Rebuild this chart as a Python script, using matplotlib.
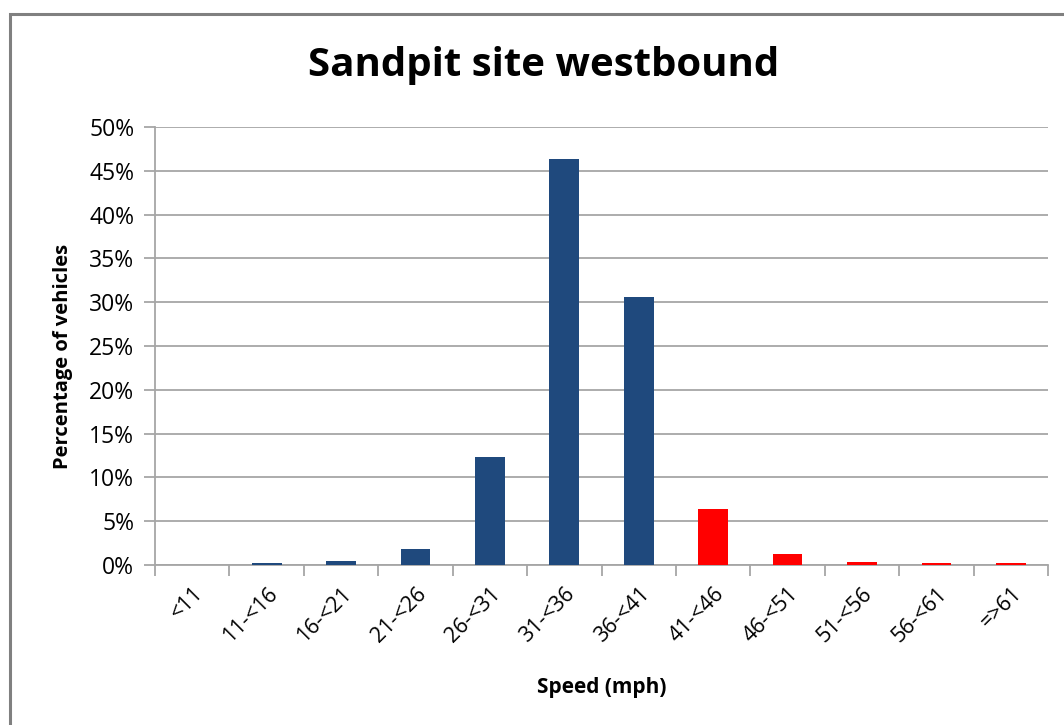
import matplotlib
matplotlib.use('Agg')
import matplotlib.pyplot as plt
from matplotlib.patches import Rectangle
from matplotlib.ticker import FuncFormatter, MultipleLocator
import numpy as np

categories = ['<11', '11-<16', '16-<21', '21-<26', '26-<31', '31-<36',
              '36-<41', '41-<46', '46-<51', '51-<56', '56-<61', '=>61']
percentages = [0.0, 0.2, 0.5, 1.8, 12.3, 46.4, 30.6, 6.4, 1.25, 0.35, 0.2, 0.2]
over_limit = [False] * 7 + [True] * 5

plt.rcParams['font.family'] = ['Open Sans', 'DejaVu Sans']

fig = plt.figure(figsize=(10.64, 7.25), dpi=100)
ax = fig.add_axes([0.1457, 0.2207, 0.8393, 0.6041])

# outer chart frame (cut off at right and bottom in the source)
fig.patches.append(Rectangle((0.0095, -0.05), 1.2, 1.05 - 0.0193, transform=fig.transFigure,
                             fill=False, edgecolor='#808080', linewidth=2.2))

x = np.arange(len(categories))
colors = ['#FF0000' if flag else '#1F497D' for flag in over_limit]
ax.bar(x, percentages, width=0.4, color=colors, zorder=3)

ax.set_xlim(-0.5, len(categories) - 0.5)
ax.set_ylim(0, 50)
ax.yaxis.set_major_locator(MultipleLocator(5))
ax.yaxis.set_major_formatter(FuncFormatter(lambda v, _: f'{v:.0f}%'))
ax.grid(axis='y', color='#A6A6A6', linewidth=1.3, zorder=0)

ax.set_xticks(x)
ax.set_xticklabels(categories, rotation=45, ha='right', rotation_mode='anchor', fontsize=15.5)
ax.set_xticks(np.arange(-0.5, len(categories)), minor=True)
ax.tick_params(axis='x', which='major', length=0, pad=13)
ax.tick_params(axis='x', which='minor', length=8, color='#A6A6A6', width=1.3)
ax.tick_params(axis='y', length=8, color='#A6A6A6', width=1.3, labelsize=16.5, pad=7)

for side in ['top', 'right']:
    ax.spines[side].set_visible(False)
for side in ['left', 'bottom']:
    ax.spines[side].set_color('#A6A6A6')
    ax.spines[side].set_linewidth(1.3)

fig.text(0.511, 0.91, 'Sandpit site westbound', ha='center', va='center',
         fontsize=29, fontweight='bold')
fig.text(0.059, 0.508, 'Percentage of vehicles', ha='center', va='center',
         rotation=90, fontsize=14.5, fontweight='bold')
fig.text(0.566, 0.052, 'Speed (mph)', ha='center', va='center',
         fontsize=15, fontweight='bold')

plt.savefig('out.png', dpi=100)
plt.close(fig)
